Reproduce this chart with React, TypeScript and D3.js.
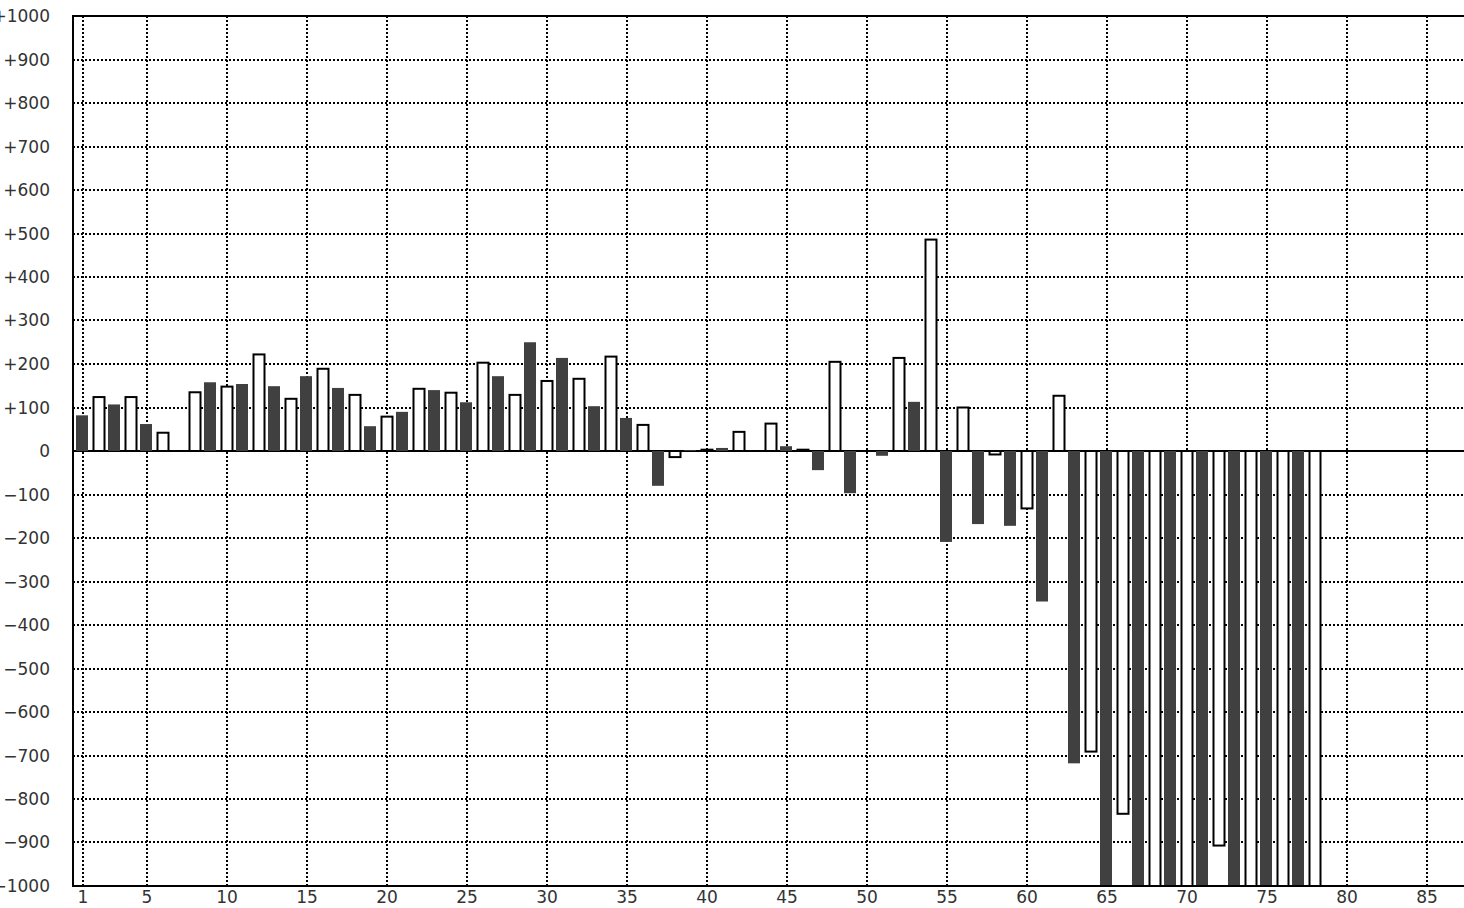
import React from "react";
import * as d3 from "d3";

// bar values, index i => category i+1 (odd = dark series, even = white series)
const categories: number[] = Array.from({ length: 78 }, (_, i) => i + 1);
const values: number[] = [
  82, 124, 107, 124, 62, 42, 0, 135, 158, 148,
  154, 222, 149, 120, 172, 189, 145, 129, 57, 79,
  90, 143, 140, 134, 112, 203, 172, 129, 250, 161,
  214, 166, 103, 217, 76, 60, -80, -14, 2, 3,
  7, 44, 0, 63, 11, 3, -44, 205, -97, 0,
  -11, 214, 113, 486, -209, 100, -168, -8, -172, -132,
  -346, 127, -718, -691, -1100, -834, -1100, -1100, -1100, -1100,
  -1100, -907, -1100, -1100, -1100, -1100, -1100, -1100,
];
const xTicks: number[] = [1, 5, 10, 15, 20, 25, 30, 35, 40, 45, 50, 55, 60, 65, 70, 75, 80, 85];
const yTicks: number[] = [1000, 900, 800, 700, 600, 500, 400, 300, 200, 100, 0, -100, -200, -300, -400, -500, -600, -700, -800, -900, -1000];

const W = 1464;
const H = 908;
const LEFT = 73;
const FONT = "'DejaVu Sans', Verdana, sans-serif";

function fmtY(v: number): string {
  if (v > 0) return "+" + v;
  if (v < 0) return "\u2212" + Math.abs(v);
  return "0";
}

export default function App() {
  const xs = d3.scaleLinear().domain([1, 85]).range([83, 1427]);
  const ys = d3.scaleLinear().domain([-1000, 1000]).range([886, 16]);
  const y0 = Math.round(ys(0));
  const top = Math.round(ys(1000));
  const bottom = Math.round(ys(-1000));

  return (
    <svg
      width={W}
      height={H}
      style={{ position: "absolute", left: 0, top: 0, display: "block", background: "#fff" }}
    >
      <defs>
        <clipPath id="plot">
          <rect x={LEFT} y={top} width={W - LEFT} height={bottom - top} />
        </clipPath>
      </defs>
      <rect x={0} y={0} width={W} height={H} fill="#fff" />
      {/* grid */}
      <g stroke="#000" strokeWidth={2} strokeDasharray="2,2">
        {yTicks
          .filter((v) => v !== 0 && Math.abs(v) !== 1000)
          .map((v) => (
            <line key={"h" + v} x1={LEFT} x2={W} y1={Math.round(ys(v))} y2={Math.round(ys(v))} />
          ))}
        {xTicks.map((v) => (
          <line key={"v" + v} x1={xs(v)} x2={xs(v)} y1={top} y2={bottom} />
        ))}
      </g>
      {/* zero line */}
      <line x1={LEFT} x2={W} y1={y0} y2={y0} stroke="#000" strokeWidth={2} />
      {/* bars */}
      <g clipPath="url(#plot)">
        {values.map((v, i) => {
          const c = categories[i];
          if (v === 0) return null;
          const yv = ys(v);
          const yTop = Math.min(yv, ys(0));
          const h = Math.abs(yv - ys(0));
          if (c % 2 === 1) {
            return <rect key={c} x={xs(c) - 7} y={yTop} width={12} height={h} fill="#404040" />;
          }
          return (
            <rect
              key={c}
              x={xs(c) - 5.5}
              y={yTop}
              width={11}
              height={h}
              fill="#fff"
              stroke="#000"
              strokeWidth={2}
            />
          );
        })}
      </g>
      {/* frame */}
      <line x1={LEFT - 1} x2={W} y1={top} y2={top} stroke="#000" strokeWidth={2} />
      <line x1={LEFT - 1} x2={W} y1={bottom} y2={bottom} stroke="#000" strokeWidth={2} />
      <line x1={LEFT} x2={LEFT} y1={top - 1} y2={bottom + 1} stroke="#000" strokeWidth={2} />
      {/* y labels */}
      <g fontFamily={FONT} fontSize={17} fill="#333" textAnchor="end">
        {yTicks.map((v) => (
          <text key={"yl" + v} x={50} y={Math.round(ys(v)) + 6}>
            {fmtY(v)}
          </text>
        ))}
      </g>
      {/* x labels */}
      <g fontFamily={FONT} fontSize={17} fill="#333" textAnchor="middle">
        {xTicks.map((v) => (
          <text key={"xl" + v} x={xs(v)} y={903}>
            {v}
          </text>
        ))}
      </g>
    </svg>
  );
}
